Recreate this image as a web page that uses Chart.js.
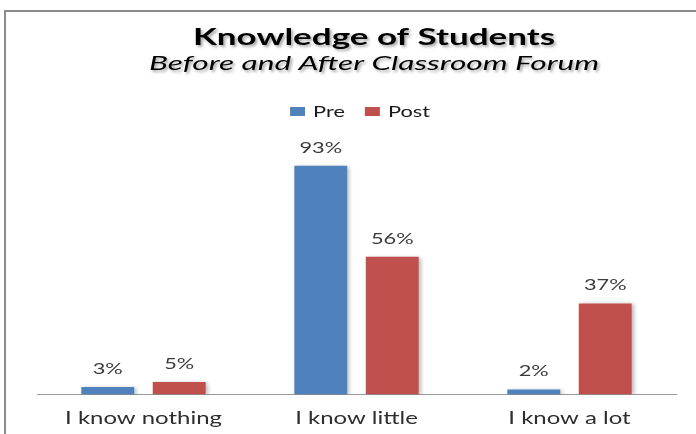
<!DOCTYPE html>
<html>
<head>
<meta charset="utf-8">
<script src="https://cdn.jsdelivr.net/npm/chart.js@4/dist/chart.umd.min.js"></script>
<style>
  html, body { margin: 0; padding: 0; background: #fff; overflow: hidden; }
  #wrap { position: relative; width: 696px; height: 434px; }
  #c { position: absolute; left: 0; top: 0; }
  #frameTop { position: absolute; left: 5px; top: 10px; width: 691px; height: 0; border-top: 2px solid #8c8c8c; pointer-events: none; }
  #frameLeft { position: absolute; left: 4px; top: 10px; width: 0; height: 424px; border-left: 2px solid #8c8c8c; pointer-events: none; }
</style>
</head>
<body>
<div id="wrap">
  <canvas id="c" width="696" height="434"></canvas>
  <div id="frameTop"></div>
  <div id="frameLeft"></div>
</div>
<script>
// ---- data ----
const categories = ["I know nothing", "I know little", "I know a lot"];
const preValues = [3, 93, 2];
const postValues = [5, 56, 37];
const seriesNames = ["Pre", "Post"];
const titleText = "Knowledge of Students";
const subtitleText = "Before and After Classroom Forum";

// ---- horizontally stretched text (reference text is widened) ----
function stretchFor(font) {
  if (/bold/.test(font)) return 1.52;
  if (/italic/.test(font)) return 1.58;
  if (/18px/.test(font)) return 1.33;
  if (/16px/.test(font)) return 1.36;
  return 1.4;
}
const canvas = document.getElementById('c');
const ctx = canvas.getContext('2d');
const origFill = CanvasRenderingContext2D.prototype.fillText;
const origMeasure = CanvasRenderingContext2D.prototype.measureText;
ctx.fillText = function (t, x, y, mw) {
  const sx = stretchFor(this.font);
  this.save();
  if (/bold|italic/.test(this.font)) {
    this.shadowColor = 'rgba(0,0,0,0.35)';
    this.shadowBlur = 3;
    this.shadowOffsetX = 2;
    this.shadowOffsetY = 2;
  }
  this.translate(x, y);
  this.scale(sx, 1);
  if (mw !== undefined && mw !== null) origFill.call(this, t, 0, 0, mw / sx);
  else origFill.call(this, t, 0, 0);
  this.restore();
};
ctx.measureText = function (t) {
  const sx = stretchFor(this.font);
  const m = origMeasure.call(this, t);
  return {
    width: m.width * sx,
    actualBoundingBoxAscent: m.actualBoundingBoxAscent,
    actualBoundingBoxDescent: m.actualBoundingBoxDescent,
    actualBoundingBoxLeft: m.actualBoundingBoxLeft * sx,
    actualBoundingBoxRight: m.actualBoundingBoxRight * sx
  };
};

const TITLE_CENTER = 374;
const LEGEND_CENTER = 360;

const shiftPlugin = {
  id: 'shiftBoxes',
  afterLayout(chart) {
    chart.boxes.forEach(b => {
      if (b === chart.legend) {
        const d = LEGEND_CENTER - (b.left + b.right) / 2;
        b.left += d; b.right += d;
      } else if (b.options && b.options.position === 'top' && b.options.text !== undefined) {
        const d = TITLE_CENTER - (b.left + b.right) / 2;
        b.left += d; b.right += d;
      }
    });
  }
};

const barDecor = {
  id: 'barDecor',
  beforeDatasetsDraw(chart) {
    const c = chart.ctx;
    c.save();
    c.shadowColor = 'rgba(0,0,0,0.28)';
    c.shadowBlur = 4;
    c.shadowOffsetX = 2;
    c.shadowOffsetY = 1;
  },
  afterDatasetsDraw(chart) {
    const c = chart.ctx;
    c.restore();
    c.save();
    c.font = '16px Lato';
    c.fillStyle = '#3a3a3a';
    c.textAlign = 'center';
    c.textBaseline = 'alphabetic';
    chart.data.datasets.forEach((ds, di) => {
      const meta = chart.getDatasetMeta(di);
      meta.data.forEach((bar, i) => {
        c.fillText(ds.data[i] + '%', bar.x, bar.y - 13);
      });
    });
    c.restore();
  }
};

new Chart(canvas, {
  type: 'bar',
  data: {
    labels: categories,
    datasets: [
      { label: seriesNames[0], data: preValues, backgroundColor: '#4F81BD', borderWidth: 0,
        categoryPercentage: 0.671, barPercentage: 0.74 },
      { label: seriesNames[1], data: postValues, backgroundColor: '#C0504D', borderWidth: 0,
        categoryPercentage: 0.671, barPercentage: 0.74 }
    ]
  },
  options: {
    responsive: false,
    animation: false,
    devicePixelRatio: 1,
    layout: { padding: { left: 37, right: 20, top: 0, bottom: -8 } },
    plugins: {
      title: {
        display: true, text: titleText, color: '#000',
        font: { family: 'Lato', size: 23, weight: 'bold', lineHeight: 1.2 },
        padding: { top: 24, bottom: 0 }
      },
      subtitle: {
        display: true, text: subtitleText, color: '#000',
        font: { family: 'Lato', size: 20, style: 'italic', weight: 'normal', lineHeight: 1.2 },
        padding: { top: 0, bottom: 8 }
      },
      legend: {
        display: true, position: 'top',
        labels: {
          font: { family: 'Lato', size: 16 },
          color: '#1a1a1a',
          boxWidth: 15, boxHeight: 9, padding: 20
        }
      },
      tooltip: { enabled: false }
    },
    scales: {
      x: {
        grid: { display: false, drawTicks: false },
        border: { display: true, color: '#9a9a9a', width: 1 },
        ticks: { font: { family: 'Lato', size: 18 }, color: '#2e2e2e', padding: 13 }
      },
      y: {
        display: false, min: 0, max: 107.7
      }
    }
  },
  plugins: [shiftPlugin, barDecor]
});
</script>
</body>
</html>
